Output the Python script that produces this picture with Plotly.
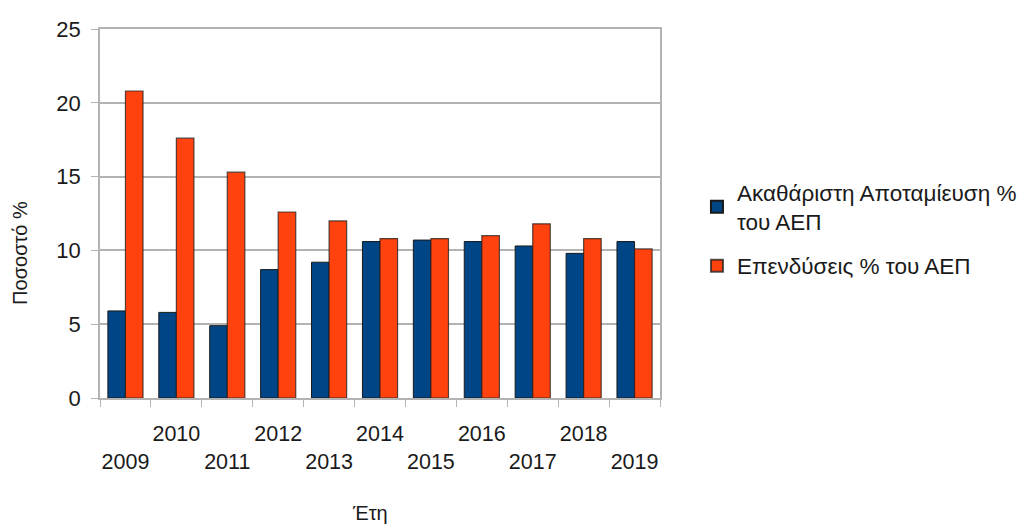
import plotly.graph_objects as go

years = ["2009", "2010", "2011", "2012", "2013", "2014", "2015", "2016", "2017", "2018", "2019"]
tick_labels = ["<br>2009", "2010", "<br>2011", "2012", "<br>2013", "2014", "<br>2015", "2016", "<br>2017", "2018", "<br>2019"]
savings = [5.9, 5.8, 4.9, 8.7, 9.2, 10.6, 10.7, 10.6, 10.3, 9.8, 10.6]
investment = [20.8, 17.6, 15.3, 12.6, 12.0, 10.8, 10.8, 11.0, 11.8, 10.8, 10.1]

name_savings = "Ακαθάριστη Αποταμίευση %<br>του ΑΕΠ"
name_invest = "Επενδύσεις % του ΑΕΠ"
x_title = "Έτη"
y_title = "Ποσοστό %"

FONT = "Liberation Sans, Arial, sans-serif"

fig = go.Figure()
fig.add_trace(go.Bar(x=years, y=savings, name=name_savings, legendgroup="a",
                     marker=dict(color="#004586", line=dict(color="#1a1a1a", width=1))))
fig.add_trace(go.Bar(x=years, y=investment, name=name_invest, legendgroup="b",
                     marker=dict(color="#ff420e", line=dict(color="rgba(30,30,30,0.75)", width=1.2))))

fig.update_layout(
    width=1030, height=529,
    margin=dict(l=92, r=378, t=21, b=139, autoexpand=False),
    paper_bgcolor="white", plot_bgcolor="white",
    barmode="group", bargap=0.31, bargroupgap=0,
    font=dict(family=FONT, size=21, color="#1a1a1a"),
    legend=dict(x=1.066, y=0.615, xanchor="left", yanchor="top",
                font=dict(family=FONT, size=22.5, color="#1a1a1a"),
                itemsizing="constant", itemwidth=30, tracegroupgap=12,
                bgcolor="rgba(0,0,0,0)"),
    showlegend=True,
    annotations=[
        dict(text=x_title, xref="paper", yref="paper", x=0.482, y=-0.312,
             showarrow=False, xanchor="center", yanchor="middle",
             font=dict(family=FONT, size=20, color="#1a1a1a")),
        dict(text=y_title, xref="paper", yref="paper", x=-0.143, y=0.393,
             showarrow=False, xanchor="center", yanchor="middle", textangle=-90,
             font=dict(family=FONT, size=20, color="#1a1a1a")),
    ],
)
fig.update_xaxes(
    type="category", tickmode="array", tickvals=years, ticktext=tick_labels,
    tickson="boundaries", ticks="outside", ticklen=7, tickcolor="#b3b3b3",
    showline=True, linecolor="#b3b3b3", linewidth=1.5, mirror=True,
    showgrid=False, tickangle=0,
    tickfont=dict(family=FONT, size=21.5, color="#1a1a1a"),
    ticklabelstandoff=15,
    automargin=False,
)
fig.update_yaxes(
    range=[0, 25], dtick=5, tick0=0,
    ticks="outside", ticklen=7, tickcolor="#b3b3b3",
    showline=True, linecolor="#b3b3b3", linewidth=1.5, mirror=True,
    showgrid=True, gridcolor="#b3b3b3", gridwidth=1.5, zeroline=False,
    tickfont=dict(family=FONT, size=22, color="#1a1a1a"),
    ticklabelstandoff=6,
    automargin=False,
)

fig.write_html("out.html")
